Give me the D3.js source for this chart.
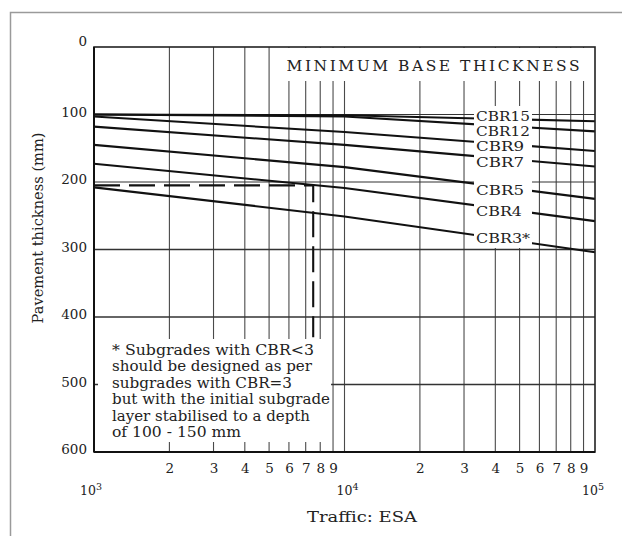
<!DOCTYPE html>
<html><head><meta charset="utf-8">
<script src="https://cdn.jsdelivr.net/npm/d3@7"></script>
<style>
html,body{margin:0;padding:0;background:#fff;}
svg{display:block;}
text{font-family:"DejaVu Serif","Liberation Serif",serif;fill:#222;}
</style></head><body>
<svg id="chart" width="622" height="536"></svg>
<script>
// ---------- data ----------
const trafficPoints = [1000, 10000, 100000];
const cbrNames = ["CBR15", "CBR12", "CBR9", "CBR7", "CBR5", "CBR4", "CBR3*"];
const cbr15 = [100, 101, 110];
const cbr12 = [100, 103, 125];
const cbr9  = [103, 126, 154];
const cbr7  = [118, 145, 177];
const cbr5  = [145, 178, 225];
const cbr4  = [173, 209, 258];
const cbr3  = [208, 251, 304];
const cbrSeries = [cbr15, cbr12, cbr9, cbr7, cbr5, cbr4, cbr3];

const yTicks = [0, 100, 200, 300, 400, 500, 600];
const yGrid = [100, 200, 300, 400, 500];
const xMinorTicks = [2000,3000,4000,5000,6000,7000,8000,9000,20000,30000,40000,50000,60000,70000,80000,90000];
const xGridTicks = [2000,3000,4000,5000,6000,7000,8000,9000,10000,20000,30000,40000,50000,60000,70000,80000,90000];
const xDecadeTicks = [1000, 10000, 100000];
const decadeExponents = ["3", "4", "5"];

const exampleTraffic = 7500;
const exampleThickness = 205;
const exampleDepth = 430;

const titleText = "MINIMUM BASE THICKNESS";
const xTitle = "Traffic:  ESA";
const yTitle = "Pavement thickness (mm)";
const noteLines = [
  "*  Subgrades with CBR<3",
  "should be designed as per",
  "subgrades with CBR=3",
  "but with the initial subgrade",
  "layer stabilised to a depth",
  "of 100 - 150 mm"
];

// ---------- layout ----------
const L = 94, R = 595, T = 47, B = 452;
const svg = d3.select("#chart");
const x = d3.scaleLog().domain([1000, 100000]).range([L, R]);
const y = d3.scaleLinear().domain([0, 600]).range([T, B]);

// outer frame
svg.append("path").attr("d", "M10.5,536V12.5H622")
  .attr("fill", "none").attr("stroke", "#9a9a9a").attr("stroke-width", 1.5);

// vertical gridlines
svg.append("g").selectAll("line").data(xGridTicks).join("line")
  .attr("x1", d => x(d)).attr("x2", d => x(d))
  .attr("y1", T).attr("y2", B)
  .attr("stroke", "#4a4a4a").attr("stroke-width", 1.1);

// horizontal gridlines
svg.append("g").selectAll("line").data(yGrid).join("line")
  .attr("x1", L).attr("x2", R)
  .attr("y1", d => y(d)).attr("y2", d => y(d))
  .attr("stroke", "#333").attr("stroke-width", d => d >= 300 ? 1.5 : 1.1);

// title box (covers gridlines)
svg.append("rect").attr("x", x(5000) + 1).attr("y", T + 1)
  .attr("width", R - x(5000) - 2).attr("height", 33).attr("fill", "#fff");
svg.append("text").attr("x", (x(5000) + R) / 2 + 1).attr("y", 71)
  .attr("text-anchor", "middle").attr("font-size", 15.5)
  .attr("textLength", 293).attr("lengthAdjust", "spacing")
  .text(titleText);

// annotation box
svg.append("rect").attr("x", L + 4).attr("y", 339)
  .attr("width", x(9000) - 2 - (L + 4)).attr("height", 103).attr("fill", "#fff");
const noteWidths = [202, 200, 180, 218, 198, 129];
svg.append("g").selectAll("text").data(noteLines).join("text")
  .attr("x", 112).attr("y", (d, i) => 355 + i * 16.4)
  .attr("font-size", 15)
  .attr("textLength", (d, i) => noteWidths[i]).attr("lengthAdjust", "spacingAndGlyphs")
  .text(d => d);

// CBR lines
const line = d3.line().x(d => x(d[0])).y(d => y(d[1]));
svg.append("g").selectAll("path").data(cbrSeries).join("path")
  .attr("d", s => line(trafficPoints.map((t, i) => [t, s[i]])))
  .attr("fill", "none").attr("stroke", "#111").attr("stroke-width", 2.1);

// dashed example
svg.append("path")
  .attr("d", line([[1000, exampleThickness], [exampleTraffic, exampleThickness], [exampleTraffic, exampleDepth]]))
  .attr("fill", "none").attr("stroke", "#111").attr("stroke-width", 2.1)
  .attr("stroke-dasharray", "26,9");

// label panel
svg.append("rect").attr("x", 474).attr("y", 106).attr("width", 58).attr("height", 142).attr("fill", "#fff");
const labelNudge = [-3, 5, 2, 4, 3, 2, -1];
const labelWidths = [54, 54, 48, 48, 48, 46, 54];
function valueAt(s, t) {
  const lt = Math.log10(t);
  const i = lt < 4 ? 0 : 1;
  const f = lt - (3 + i);
  return s[i] + f * (s[i + 1] - s[i]);
}
svg.append("g").selectAll("text").data(cbrSeries).join("text")
  .attr("x", 476)
  .attr("y", (s, i) => y(valueAt(s, 45000)) + labelNudge[i])
  .attr("dy", "0.36em")
  .attr("font-size", 12.5)
  .attr("textLength", (s, i) => labelWidths[i]).attr("lengthAdjust", "spacingAndGlyphs")
  .text((s, i) => cbrNames[i]);

// plot border
svg.append("rect").attr("x", L).attr("y", T).attr("width", R - L).attr("height", B - T)
  .attr("fill", "none").attr("stroke", "#222").attr("stroke-width", 1.6);
svg.append("line").attr("x1", L).attr("x2", L).attr("y1", T).attr("y2", B)
  .attr("stroke", "#111").attr("stroke-width", 2);
svg.append("line").attr("x1", L).attr("x2", R).attr("y1", B).attr("y2", B)
  .attr("stroke", "#111").attr("stroke-width", 2);

// y axis labels
const yAxis = svg.append("g").attr("transform", `translate(${L},0)`)
  .call(d3.axisLeft(y).tickValues(yTicks).tickSize(0).tickPadding(7));
yAxis.select(".domain").remove();
yAxis.selectAll("text").attr("font-size", 13.5).attr("dy", "0.14em")
  .style("font-family", '"DejaVu Serif", serif').attr("fill", "#222");
yAxis.selectAll("text").filter(d => d === 0).attr("dy", "-0.1em");

// x minor labels
const xAxis = svg.append("g").attr("transform", `translate(0,${B})`)
  .call(d3.axisBottom(x).tickValues(xMinorTicks)
    .tickFormat(d => String(Math.round(d / Math.pow(10, Math.floor(Math.log10(d) + 1e-9)))))
    .tickSize(0).tickPadding(11));
xAxis.select(".domain").remove();
xAxis.selectAll("text").attr("font-size", 13.5)
  .style("font-family", '"DejaVu Serif", serif').attr("fill", "#222");

// decade labels
const decadeShift = [-3, 3, -2];
const dec = svg.append("g").selectAll("text").data(xDecadeTicks).join("text")
  .attr("x", (d, i) => x(d) + decadeShift[i]).attr("y", 495)
  .attr("text-anchor", "middle").attr("font-size", 12.5);
dec.append("tspan").text("10");
dec.append("tspan").attr("dy", -5).attr("font-size", 9.5).text((d, i) => decadeExponents[i]);

// axis titles
svg.append("text").attr("x", 362).attr("y", 522).attr("text-anchor", "middle")
  .attr("font-size", 15).attr("textLength", 110).attr("lengthAdjust", "spacingAndGlyphs")
  .text(xTitle);
svg.append("text").attr("transform", "translate(43,228) rotate(-90)")
  .attr("text-anchor", "middle").attr("font-size", 15)
  .attr("textLength", 191).attr("lengthAdjust", "spacingAndGlyphs")
  .text(yTitle);
</script>
</body></html>
